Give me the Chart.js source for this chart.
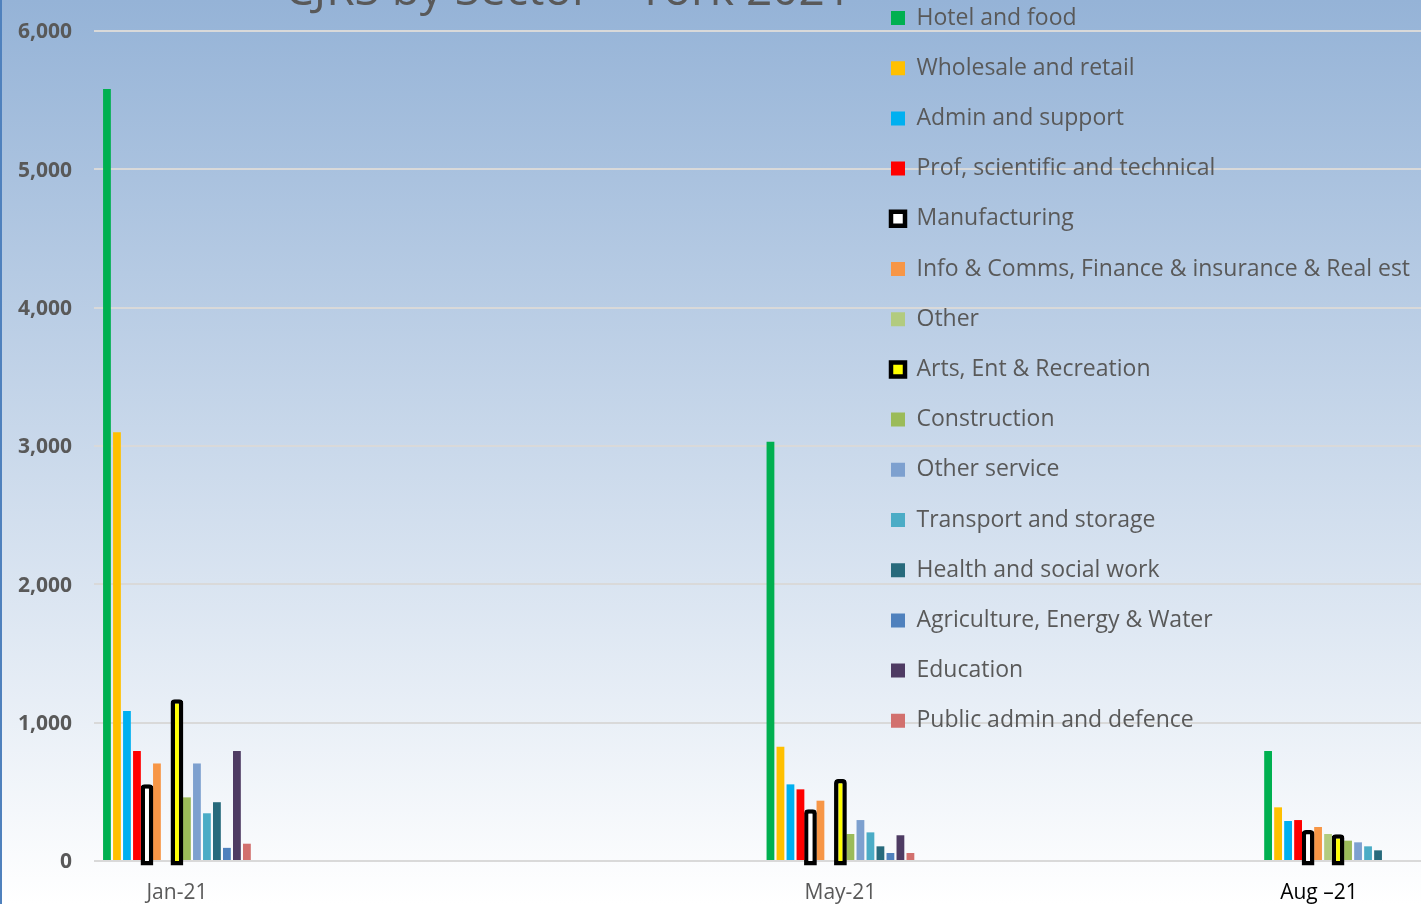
<!DOCTYPE html>
<html>
<head>
<meta charset="utf-8">
<script src="https://cdn.jsdelivr.net/npm/chart.js@4"></script>
<style>
html, body { margin: 0; padding: 0; width: 1421px; height: 904px; overflow: hidden; }
body { position: relative; background: linear-gradient(to bottom, #95B3D7 0%, #FFFFFF 100%); box-shadow: inset 2px 0 0 #4F81BD; }
#wrap { position: absolute; left: 0; top: -37px; width: 1421px; height: 941px; }
</style>
</head>
<body>
<div id="wrap"><canvas id="c"></canvas></div>
<script>
// ---- Data ----
const categories = ['Jan-21', 'May-21', 'Aug \u201321'];
const axisMonths = ['Jan-21', 'Feb-21', 'Mar-21', 'Apr-21', 'May-21', 'Jun-21', 'Jul-21', 'Aug \u201321'];
const chartTitle = 'CJRS by Sector \u2013 York 2021';

const sectors = [
  'Hotel and food',
  'Wholesale and retail',
  'Admin and support',
  'Prof, scientific and technical',
  'Manufacturing',
  'Info & Comms, Finance & insurance & Real est',
  'Other',
  'Arts, Ent & Recreation',
  'Construction',
  'Other service',
  'Transport and storage',
  'Health and social work',
  'Agriculture, Energy & Water',
  'Education',
  'Public admin and defence'
];

const hotelFood       = [5580, 3030, 795];
const wholesaleRetail = [3100, 826, 388];
const adminSupport    = [1085, 554, 289];
const profSciTech     = [795, 518, 296];
const manufacturing   = [555, 374, 224];
const infoFinance     = [705, 436, 246];
const otherSector     = [null, null, 195];
const artsEntRec      = [1170, 593, 193];
const construction    = [460, 195, 147];
const otherService    = [705, 296, 135];
const transport       = [345, 207, 106];
const healthSocial    = [425, 106, 77];
const agriEnergy      = [95, 58, null];
const education       = [795, 186, null];
const publicAdmin     = [125, 58, null];

const seriesList = [hotelFood, wholesaleRetail, adminSupport, profSciTech, manufacturing,
  infoFinance, otherSector, artsEntRec, construction, otherService, transport,
  healthSocial, agriEnergy, education, publicAdmin];

const fillColors = ['#00B050', '#FFC000', '#00B0F0', '#FF0000', '#FFFFFF', '#F79646', '#B2CB7F',
  '#FFFF00', '#9BBB59', '#7DA0CF', '#4BACC6', '#276A7C', '#4F81BD', '#4E3B63', '#D2706E'];
const outlined = [false, false, false, false, true, false, false, true, false, false, false, false, false, false, false];

const datasets = sectors.map((name, k) => ({
  label: name,
  data: categories.map((c, i) => ({ x: c, y: seriesList[k][i] })),
  backgroundColor: fillColors[k],
  borderColor: outlined[k] ? '#000000' : fillColors[k],
  borderWidth: outlined[k] ? 4.5 : 0,
  borderSkipped: false,
  borderRadius: outlined[k] ? { topLeft: 4, topRight: 4, bottomLeft: 0, bottomRight: 0 } : 0,
  barPercentage: outlined[k] ? 1.28 : 0.78,
  categoryPercentage: 0.904,
  base: outlined[k] ? -32 : 0,
  clip: false
}));

const placeBlocks = {
  id: 'placeBlocks',
  beforeDraw(chart) {
    const lg = chart.legend;
    const pad = lg.options.labels.padding;
    lg.left = 891 - pad;
    lg.right = 1440;
    lg.top = 55 - 11.5 - pad;
    lg.bottom = chart.height;
    lg.width = lg.right - lg.left;
    lg.height = lg.bottom - lg.top;
    const t = chart.titleBlock;
    t.left = 0;
    t.right = 1136;
  }
};

const lastCategory = categories[categories.length - 1];

new Chart(document.getElementById('c'), {
  type: 'bar',
  data: { datasets },
  plugins: [placeBlocks],
  options: {
    responsive: true,
    maintainAspectRatio: false,
    animation: false,
    events: [],
    layout: { padding: 0 },
    plugins: {
      tooltip: { enabled: false },
      title: {
        display: true,
        text: chartTitle,
        color: '#595959',
        font: { family: 'Open Sans', size: 46, weight: 'normal', lineHeight: 1.25 },
        padding: { top: 0, bottom: 10.5 }
      },
      legend: {
        display: true,
        position: 'chartArea',
        align: 'start',
        labels: {
          color: '#595959',
          font: { family: 'Open Sans', size: 23 },
          boxWidth: 14,
          boxHeight: 14,
          padding: 27.2
        }
      }
    },
    scales: {
      x: {
        type: 'category',
        labels: axisMonths,
        offset: true,
        grid: { display: false, drawTicks: false },
        border: { display: false },
        ticks: {
          autoSkip: false,
          maxRotation: 0,
          minRotation: 0,
          padding: 19.5,
          font: { family: 'Open Sans', size: 21 },
          color: (c) => (c.tick && String(c.tick.label).startsWith('Aug')) ? '#000000' : '#595959',
          callback: function (v) {
            const l = this.getLabelForValue(v);
            if (!categories.includes(l)) return '';
            return l === lastCategory ? l + '\u00A0\u00A0\u00A0\u00A0\u00A0\u00A0\u00A0' : l;
          }
        },
        afterFit(s) { s.height = 43; }
      },
      y: {
        min: 0,
        max: 6000,
        grid: { color: '#D9D9D9', lineWidth: 2, drawTicks: false },
        border: { display: false },
        ticks: {
          stepSize: 1000,
          padding: 22,
          labelOffset: 1.5,
          color: '#595959',
          font: { family: 'Open Sans', size: 21, weight: 'bold' }
        },
        afterFit(s) { s.width = 94; }
      }
    }
  }
});
</script>
</body>
</html>
